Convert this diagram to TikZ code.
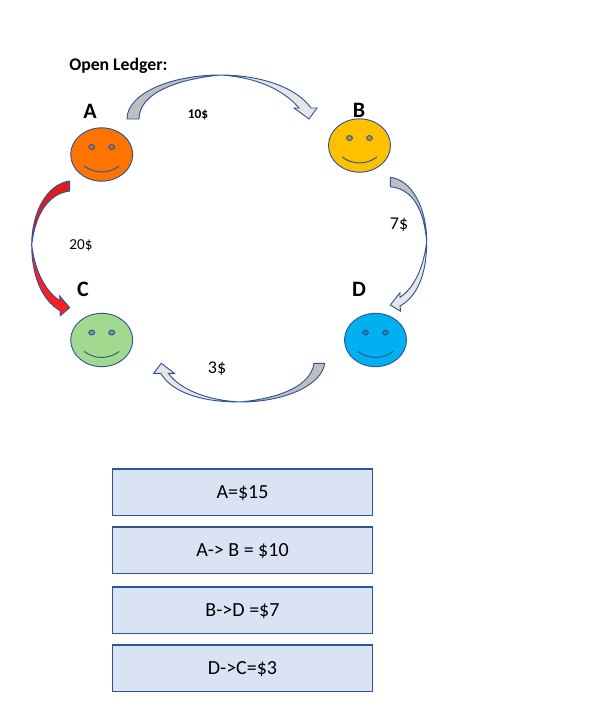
\documentclass[tikz,border=0pt]{standalone}
\usepackage{fontspec}
\setmainfont{Carlito}
\usetikzlibrary{shapes.geometric}
\definecolor{edgeblue}{HTML}{2F5597}
\definecolor{boxfill}{HTML}{DAE3F3}
\definecolor{darkgray}{HTML}{BFBFBF}
\definecolor{lightgray}{HTML}{E7E6E6}
\definecolor{darkred}{HTML}{DD1C1C}
\definecolor{brightred}{HTML}{FF1F1F}
\definecolor{faceA}{HTML}{FF7300}
\definecolor{eyeA}{HTML}{B0704F}
\definecolor{faceB}{HTML}{FFC000}
\definecolor{eyeB}{HTML}{B8923C}
\definecolor{faceC}{HTML}{A1DA8E}
\definecolor{eyeC}{HTML}{6F9C94}
\definecolor{faceD}{HTML}{00B0F0}
\definecolor{eyeD}{HTML}{1F7FBF}
\tikzset{
  x=0.75pt,y=-0.75pt,
  face/.style={ellipse,draw=edgeblue,line width=0.7pt,minimum width=46.5pt,minimum height=40pt,inner sep=0pt},
  eye/.style={ellipse,draw=edgeblue,line width=0.7pt,minimum width=4.4pt,minimum height=3.7pt,inner sep=0pt},
  smile/.style={draw=edgeblue,line width=0.7pt},
  band/.style={draw=edgeblue,line width=0.7pt,line join=miter},
  ledgerbox/.style={rectangle,draw=edgeblue,fill=boxfill,line width=0.85pt,minimum width=195pt,minimum height=35pt,inner sep=0pt,font=\fontsize{15}{17}\selectfont},
  person/.style={inner sep=0pt,font=\fontsize{16.5}{18}\selectfont\bfseries},
  amount/.style={inner sep=0pt},
}
\newcommand{\smiley}[5]{% name, x, y, face colour, eye colour
  \node[face,fill=#4] (#1) at (#2,#3) {};
  \node[eye,fill=#5] (#1eyeL) at ([xshift=-7.5pt,yshift=5.6pt]#1.center) {};
  \node[eye,fill=#5] (#1eyeR) at ([xshift=7.5pt,yshift=5.6pt]#1.center) {};
  \coordinate (#1smL) at ([xshift=-13.1pt,yshift=-8.6pt]#1.center);
  \coordinate (#1smR) at ([xshift=13.1pt,yshift=-8.6pt]#1.center);
  \path[smile] (#1smL) .. controls ([xshift=8pt,yshift=-6pt]#1smL) and ([xshift=-8pt,yshift=-6pt]#1smR) .. (#1smR);
}
\newcommand{\boxtext}[1]{\raisebox{0pt}[10pt][0pt]{#1}}
\begin{document}
\begin{tikzpicture}
\useasboundingbox (0,0) rectangle (593,722);

% faces
\smiley{A}{101.7}{154.5}{faceA}{eyeA}
\smiley{B}{359.5}{145.5}{faceB}{eyeB}
\smiley{C}{101.7}{340}{faceC}{eyeC}
\smiley{D}{375.5}{340}{faceD}{eyeD}

% texts
\node[anchor=west,inner sep=0pt,font=\fontsize{13.3}{15}\selectfont\bfseries] (title) at (69,65.5) {Open Ledger:};
\node[person] (labelA) at (90,111) {A};
\node[person] (labelB) at (359,110.5) {B};
\node[person] (labelC) at (83,289) {C};
\node[person] (labelD) at (359,289) {D};
\node[amount,font=\fontsize{10}{12}\selectfont\bfseries] (amtAB) at (198,114.5) {10\$};
\node[amount,font=\fontsize{13.5}{15}\selectfont] (amtBD) at (399,224.5) {7\$};
\node[amount,font=\fontsize{11.4}{13}\selectfont] (amtAC) at (81,245) {20\$};
\node[amount,font=\fontsize{13.5}{15}\selectfont] (amtDC) at (217,368.5) {3\$};

% A -> B block arrow
\path[band,fill=darkgray] (127,119) .. controls (127,93) and (172,75) .. (220,75)
  .. controls (180,79) and (139,92) .. (139,119) -- cycle;
\path[band,fill=lightgray] (220,75) .. controls (260,75) and (296,87) .. (311,108)
  -- (317,108) -- (309,119) -- (294,108) -- (299,108)
  .. controls (283,89) and (255,77) .. (220,75) -- cycle;

% B -> D block arrow
\path[band,fill=darkgray] (390.3,177.3) .. controls (412,180) and (426.7,208) .. (426.7,241.7)
  .. controls (424,210) and (413,189) .. (390.3,186.7) -- cycle;
\path[band,fill=lightgray] (426.7,241.7) .. controls (426.7,273) and (418,296) .. (400,306)
  -- (400.7,311.3) -- (390.3,305) -- (400,292.7) -- (400,297.3)
  .. controls (414,288) and (423.5,268) .. (426.7,241.7) -- cycle;

% D -> C block arrow
\path[band,fill=darkgray] (324.7,363.3) .. controls (322,385) and (285,402) .. (240,402)
  .. controls (282,398) and (311,385) .. (314,363.3) -- cycle;
\path[band,fill=lightgray] (240,402) .. controls (200,402) and (172,392) .. (160.7,373.3)
  -- (153.7,373.3) -- (161.3,363.3) -- (174.3,373.3) -- (168.3,373.3)
  .. controls (180,389) and (205,400) .. (240,402) -- cycle;

% A -> C block arrow
\path[band,fill=darkred] (69.7,181) .. controls (47,184) and (31.7,212) .. (31.7,245)
  .. controls (35,216) and (47,194) .. (69.7,191) -- cycle;
\path[band,fill=brightred] (31.7,245) .. controls (31.7,276) and (42,300) .. (60,310.7)
  -- (60.3,315.7) -- (69.7,307.7) -- (59.7,296) -- (60,300.7)
  .. controls (46,292) and (35,272) .. (31.7,245) -- cycle;

% ledger boxes
\node[ledgerbox] (box1) at (242.5,492.3) {\boxtext{A=\$15}};
\node[ledgerbox] (box2) at (242.5,550.3) {\boxtext{A-> B = \$10}};
\node[ledgerbox] (box3) at (242.5,610.3) {\boxtext{B->D =\$7}};
\node[ledgerbox] (box4) at (242.5,668.3) {\boxtext{D->C=\$3}};
\end{tikzpicture}
\end{document}
